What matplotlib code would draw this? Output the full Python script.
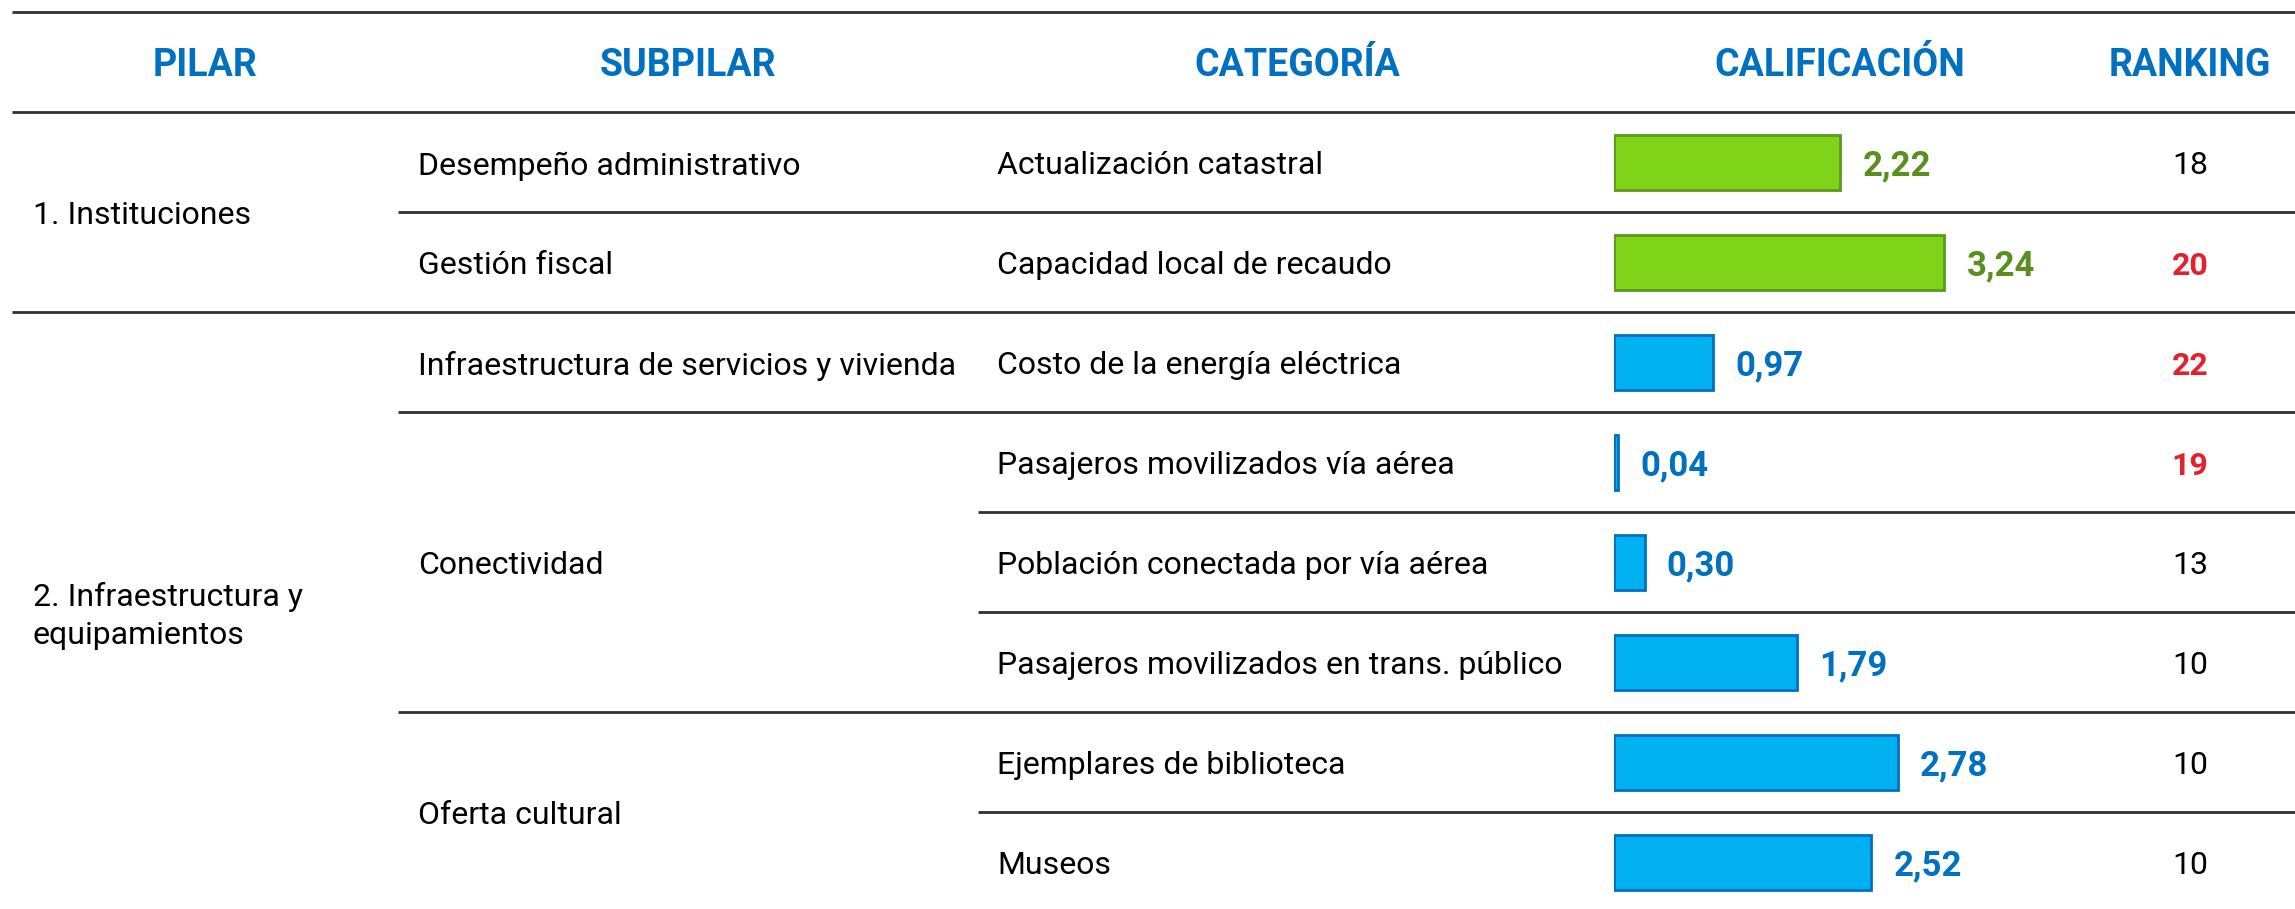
import matplotlib
matplotlib.use("Agg")
import matplotlib.pyplot as plt
from matplotlib import font_manager

# ---- data ----
encabezados = ["PILAR", "SUBPILAR", "CATEGORÍA", "CALIFICACIÓN", "RANKING"]
pilares = ["1. Instituciones", "2. Infraestructura y\nequipamientos"]
pilar_filas = [(0, 2), (2, 8)]
subpilares = ["Desempeño administrativo", "Gestión fiscal",
              "Infraestructura de servicios y vivienda", "Conectividad",
              "Oferta cultural"]
subpilar_filas = [(0, 1), (1, 2), (2, 3), (3, 6), (6, 8)]
categorias = ["Actualización catastral", "Capacidad local de recaudo",
              "Costo de la energía eléctrica", "Pasajeros movilizados vía aérea",
              "Población conectada por vía aérea",
              "Pasajeros movilizados en trans. público",
              "Ejemplares de biblioteca", "Museos"]
calificacion = [2.22, 3.24, 0.97, 0.04, 0.30, 1.79, 2.78, 2.52]
ranking = [18, 20, 22, 19, 13, 10, 10, 10]
ranking_destacado = [False, True, True, True, False, False, False, False]

# ---- style ----
AZUL_TXT = "#0070C0"
ROJO = "#E3202B"
COLORES_PILAR = [  # fill, edge, label
    ("#7FD319", "#5C9A1C", "#5A8F1E"),
    ("#00B0F0", "#0070C0", "#0070C0"),
]
LINEA = "#333333"

names = {f.name for f in font_manager.fontManager.ttflist}
if "Liberation Sans Narrow" in names:
    FONT, FS, FS_H, FS_V = "Liberation Sans Narrow", 25, 29, 26
else:
    FONT, FS, FS_H, FS_V = "Roboto", 23, 27, 25
plt.rcParams["font.family"] = [FONT, "DejaVu Sans"]

DY = 0.04  # nudge text down a bit so caps sit centred in the row

W, H = 2295, 909
fig = plt.figure(figsize=(W / 100, H / 100), dpi=100)
ax = fig.add_axes([0, 0, 1, 1])
ax.set_xlim(0, W)
# rows: header row spans -1..0, data row i spans i..i+1 (100 px each)
ax.set_ylim((H - 112) / 100, -1.12)
ax.axis("off")

# bar axes, x in score units
bar_x0 = 1614
ax_b = fig.add_axes([bar_x0 / W, 0, 1 - bar_x0 / W, 1], sharey=ax)
ax_b.set_xlim(0, (W - bar_x0) / 102)
ax_b.axis("off")

# header
col_x = [205, 688, 1297, 1840, 2190]
for x, t in zip(col_x, encabezados):
    ax.text(x, -0.5 + DY, t, ha="center", va="center", fontsize=FS_H,
            fontweight="bold", color=AZUL_TXT)

# pilar text + pilar index for each row
fila_pilar = []
for p, (a, b) in enumerate(pilar_filas):
    ax.text(33, (a + b) / 2 + DY, pilares[p], ha="left", va="center",
            fontsize=FS, color="black", linespacing=1.4)
    fila_pilar += [p] * (b - a)

for s, (a, b) in enumerate(subpilar_filas):
    ax.text(418, (a + b) / 2 + DY, subpilares[s], ha="left", va="center",
            fontsize=FS, color="black")

filas = [i + 0.5 for i in range(len(categorias))]
for i, c in enumerate(categorias):
    ax.text(997, filas[i] + DY, c, ha="left", va="center", fontsize=FS,
            color="black")

# bars
fills = [COLORES_PILAR[p][0] for p in fila_pilar]
edges = [COLORES_PILAR[p][1] for p in fila_pilar]
ax_b.barh(filas, calificacion, height=0.55, left=0, color=fills,
          edgecolor=edges, linewidth=2)
for i, v in enumerate(calificacion):
    ax_b.annotate(f"{v:.2f}".replace(".", ","), (v, filas[i] + DY),
                  xytext=(16, 0), textcoords="offset points",
                  ha="left", va="center", fontsize=FS_V, fontweight="bold",
                  color=COLORES_PILAR[fila_pilar[i]][2])

# ranking
for i, r in enumerate(ranking):
    if ranking_destacado[i]:
        ax.text(2190, filas[i] + DY, str(r), ha="center", va="center",
                fontsize=FS, fontweight="bold", color=ROJO)
    else:
        ax.text(2190, filas[i] + DY, str(r), ha="center", va="center",
                fontsize=FS, color="black")

# horizontal rules
ax.hlines([-1, 0], 12, W, color=LINEA, lw=2)
pil_lim = {b for _, b in pilar_filas}
sub_lim = {b for _, b in subpilar_filas}
for y in range(1, len(categorias)):
    if y in pil_lim:
        x0 = 12
    elif y in sub_lim:
        x0 = 398
    else:
        x0 = 978
    ax.hlines(y, x0, W, color=LINEA, lw=2)

fig.savefig("out.png", dpi=100)
